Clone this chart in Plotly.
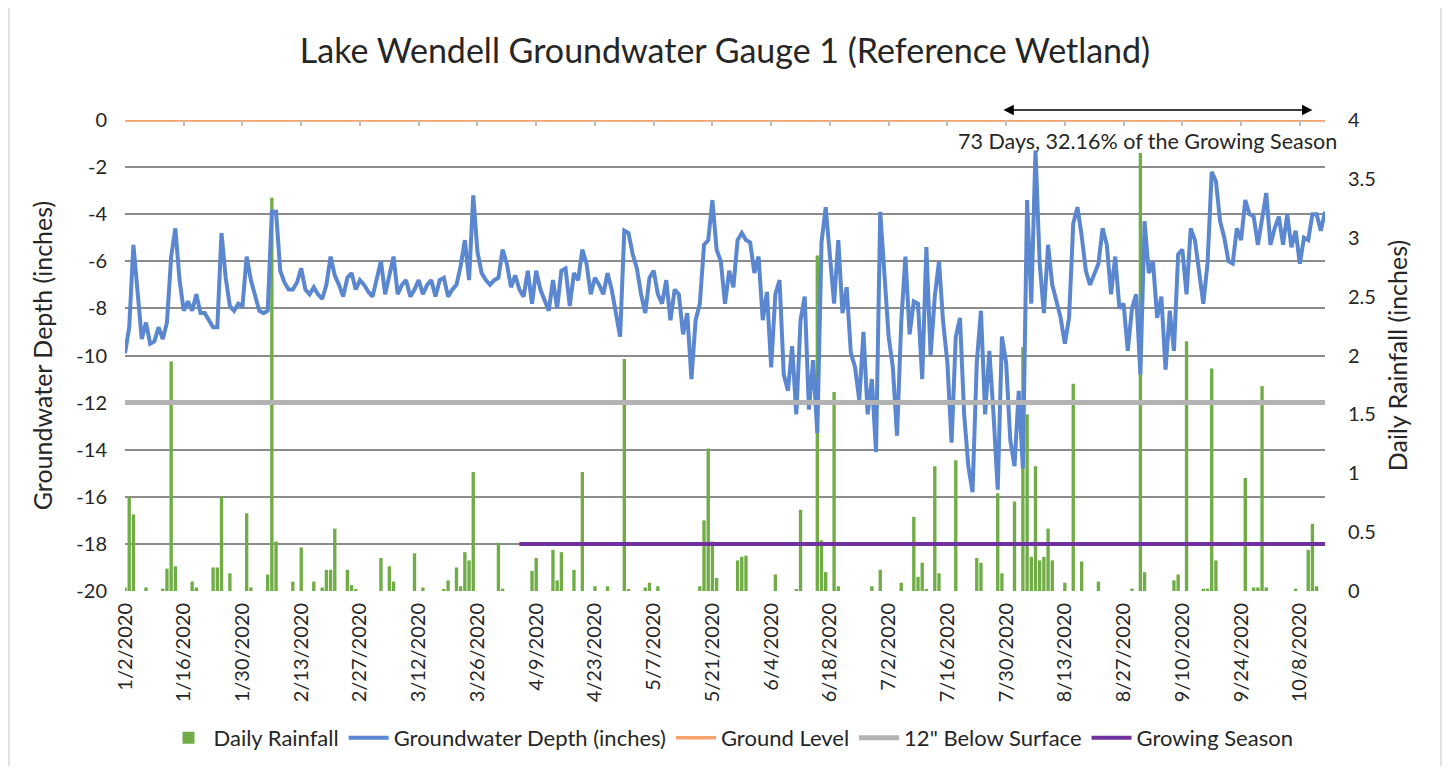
import pandas as pd
import plotly.graph_objects as go

# ---------------- data ----------------
start_date = "2020-01-02"
gw_depth = [
    -9.9, -8.8, -5.3, -7.2, -9.3, -8.6, -9.5, -9.4, -8.8, -9.3,
    -8.6, -5.8, -4.6, -6.8, -8.1, -7.7, -8.1, -7.4, -8.2, -8.2,
    -8.5, -8.8, -8.8, -4.8, -6.7, -7.9, -8.1, -7.8, -7.9, -5.8,
    -6.8, -7.5, -8.1, -8.2, -8.1, -3.9, -3.9, -6.4, -6.9, -7.2,
    -7.2, -6.9, -6.3, -7.2, -7.4, -7.1, -7.4, -7.6, -7.0, -5.8,
    -6.6, -7.0, -7.5, -6.7, -6.5, -7.2, -6.8, -7.0, -7.3, -7.5,
    -6.8, -6.0, -7.4, -6.6, -5.8, -7.4, -7.0, -6.8, -7.5, -7.2,
    -6.8, -7.4, -7.0, -6.8, -7.5, -6.8, -6.7, -7.5, -7.2, -7.0,
    -6.2, -5.1, -6.8, -3.2, -5.6, -6.5, -6.8, -7.0, -6.8, -6.7,
    -5.5, -6.1, -7.1, -6.6, -7.2, -7.5, -6.4, -7.8, -6.4, -7.2,
    -7.6, -8.1, -6.8, -8.0, -6.4, -6.3, -7.9, -6.5, -6.8, -5.5,
    -6.1, -7.4, -6.7, -7.0, -7.4, -6.5, -7.2, -8.2, -9.2, -4.7,
    -4.8, -5.7, -6.3, -7.4, -8.2, -6.7, -6.4, -7.4, -7.8, -6.8,
    -8.5, -7.2, -7.4, -9.1, -8.2, -11.0, -8.5, -7.8, -5.3, -5.1,
    -3.4, -5.5, -6.0, -7.8, -6.4, -7.1, -5.1, -4.8, -5.1, -5.2,
    -6.5, -5.8, -8.5, -7.3, -10.5, -7.4, -6.8, -10.8, -11.5, -9.6,
    -12.5, -8.5, -7.5, -12.3, -10.2, -13.3, -5.2, -3.7, -5.8, -7.8,
    -5.1, -8.2, -7.1, -9.9, -10.5, -11.9, -9.0, -12.5, -11.0, -14.1,
    -3.9, -6.8, -9.2, -10.5, -13.4, -8.6, -5.8, -9.1, -7.7, -7.8,
    -11.0, -5.4, -10.0, -7.5, -6.0, -8.6, -10.3, -13.7, -9.2, -8.4,
    -12.5, -14.7, -15.8, -10.3, -8.1, -12.5, -9.8, -12.5, -15.7, -9.2,
    -10.3, -13.6, -14.7, -11.5, -14.8, -3.4, -7.8, -1.3, -6.1, -8.2,
    -5.3, -7.0, -7.7, -8.4, -9.5, -8.4, -4.4, -3.7, -4.9, -6.4,
    -7.0, -6.5, -6.1, -4.6, -5.3, -7.4, -5.8, -8.0, -7.8, -9.8,
    -8.0, -7.4, -10.8, -4.3, -6.5, -6.0, -8.4, -7.5, -10.6, -8.1,
    -9.8, -5.7, -5.5, -7.4, -4.6, -5.1, -6.4, -7.8, -6.1, -2.2,
    -2.6, -4.3, -5.0, -6.0, -6.1, -4.6, -5.1, -3.4, -4.0, -4.1,
    -5.3, -4.1, -3.1, -5.3, -4.6, -4.1, -5.3, -4.0, -5.4, -4.7,
    -6.1, -5.0, -5.1, -4.0, -4.0, -4.7, -3.9,
]

rain_dates = [
    "2020-01-02", "2020-01-03", "2020-01-04", "2020-01-07", "2020-01-11", "2020-01-12",
    "2020-01-13", "2020-01-14", "2020-01-18", "2020-01-19", "2020-01-23", "2020-01-24",
    "2020-01-25", "2020-01-27", "2020-01-31", "2020-02-01", "2020-02-05", "2020-02-06",
    "2020-02-07", "2020-02-11", "2020-02-13", "2020-02-16", "2020-02-18", "2020-02-19",
    "2020-02-20", "2020-02-21", "2020-02-24", "2020-02-25", "2020-02-26", "2020-03-03",
    "2020-03-05", "2020-03-06", "2020-03-11", "2020-03-13", "2020-03-18", "2020-03-19",
    "2020-03-21", "2020-03-22", "2020-03-23", "2020-03-24", "2020-03-25", "2020-03-31",
    "2020-04-01", "2020-04-08", "2020-04-09", "2020-04-13", "2020-04-14", "2020-04-15",
    "2020-04-18", "2020-04-20", "2020-04-23", "2020-04-26", "2020-04-30", "2020-05-01",
    "2020-05-05", "2020-05-06", "2020-05-08", "2020-05-18", "2020-05-19", "2020-05-20",
    "2020-05-21", "2020-05-22", "2020-05-27", "2020-05-28", "2020-05-29", "2020-06-05",
    "2020-06-10", "2020-06-11", "2020-06-15", "2020-06-16", "2020-06-17", "2020-06-19",
    "2020-06-20", "2020-06-28", "2020-06-30", "2020-07-05", "2020-07-08", "2020-07-09",
    "2020-07-10", "2020-07-11", "2020-07-13", "2020-07-14", "2020-07-18", "2020-07-23",
    "2020-07-24", "2020-07-28", "2020-07-29", "2020-08-01", "2020-08-03", "2020-08-04",
    "2020-08-05", "2020-08-06", "2020-08-07", "2020-08-08", "2020-08-09", "2020-08-10",
    "2020-08-13", "2020-08-15", "2020-08-17", "2020-08-21", "2020-08-29", "2020-08-31",
    "2020-09-01", "2020-09-08", "2020-09-09", "2020-09-11", "2020-09-15", "2020-09-16",
    "2020-09-17", "2020-09-18", "2020-09-25", "2020-09-27", "2020-09-28", "2020-09-29",
    "2020-09-30", "2020-10-07", "2020-10-10", "2020-10-11", "2020-10-12",
]
rain_inches = [
    0.03, 0.80, 0.65, 0.03, 0.02, 0.19,
    1.95, 0.21, 0.08, 0.03, 0.20, 0.20,
    0.80, 0.15, 0.66, 0.03, 0.14, 3.34,
    0.42, 0.08, 0.37, 0.08, 0.03, 0.18,
    0.18, 0.53, 0.18, 0.05, 0.01, 0.28,
    0.21, 0.08, 0.32, 0.03, 0.01, 0.09,
    0.20, 0.04, 0.33, 0.26, 1.01, 0.41,
    0.02, 0.17, 0.28, 0.35, 0.09, 0.33,
    0.18, 1.01, 0.04, 0.04, 1.97, 0.01,
    0.03, 0.07, 0.04, 0.04, 0.60, 1.21,
    0.42, 0.11, 0.26, 0.29, 0.30, 0.14,
    0.01, 0.69, 2.85, 0.43, 0.16, 1.69,
    0.04, 0.04, 0.18, 0.07, 0.63, 0.12,
    0.24, 0.01, 1.06, 0.15, 1.11, 0.28,
    0.24, 0.83, 0.15, 0.76, 2.07, 1.50,
    0.29, 1.06, 0.26, 0.29, 0.53, 0.26,
    0.07, 1.76, 0.25, 0.08, 0.02, 3.72,
    0.16, 0.09, 0.14, 2.12, 0.02, 0.02,
    1.89, 0.26, 0.96, 0.03, 0.03, 1.74,
    0.03, 0.02, 0.35, 0.57, 0.04,
]

ground_level = [0, 0]
below_12 = [-12, -12]
growing_season_dates = ["2020-04-05", "2020-10-14"]
growing_season_level = [-18, -18]
season_window = ["2020-07-29", "2020-10-11"]
season_label = "73 Days, 32.16% of the Growing Season"

tick_labels = ["1/2/2020", "1/16/2020", "1/30/2020", "2/13/2020", "2/27/2020", "3/12/2020",
               "3/26/2020", "4/9/2020", "4/23/2020", "5/7/2020", "5/21/2020", "6/4/2020",
               "6/18/2020", "7/2/2020", "7/16/2020", "7/30/2020", "8/13/2020", "8/27/2020",
               "9/10/2020", "9/24/2020", "10/8/2020"]
depth_ticks = [0, -2, -4, -6, -8, -10, -12, -14, -16, -18, -20]
rain_ticks = [0, 0.5, 1, 1.5, 2, 2.5, 3, 3.5, 4]

# ---------------- derived ----------------
gw_dates = pd.date_range(start_date, periods=len(gw_depth), freq="D")
full_span = [gw_dates[0], gw_dates[-1]]
tick_vals = pd.to_datetime(tick_labels, format="%m/%d/%Y")

FONT = "Lato"
TXT = "#262626"
GRID = "#8c8c8c"

# The page body has an 8px margin, so the figure is drawn 8px in from the
# window edge.  Figure size and positions are given in figure pixels.
OFF = 8
FW, FH = 1450 - 2 * OFF, 774 - 2 * OFF
# plot area on screen: x 125..1325, y 120..591
L, T = 125 - OFF, 120 - OFF
R = FW - (1325 - OFF)
B = FH - (591 - OFF)
PW, PH = FW - L - R, FH - T - B


def px(xs):
    """screen x pixel -> paper x"""
    return (xs - OFF - L) / PW


def py(ys):
    """screen y pixel -> paper y"""
    return (FH - B - (ys - OFF)) / PH


fig = go.Figure()
fig.add_trace(go.Bar(x=pd.to_datetime(rain_dates), y=rain_inches, name="Daily Rainfall",
                     marker=dict(color="#70AD47", line=dict(width=0)),
                     xaxis="x", yaxis="y"))
fig.add_trace(go.Scatter(x=gw_dates, y=gw_depth, mode="lines", name="Groundwater Depth (inches)",
                         line=dict(color="#5A87D0", width=4),
                         xaxis="x", yaxis="y2"))
fig.add_trace(go.Scatter(x=full_span, y=ground_level, mode="lines", name="Ground Level",
                         line=dict(color="#F4A26B", width=3.5),
                         xaxis="x2", yaxis="y2"))
fig.add_trace(go.Scatter(x=full_span, y=below_12, mode="lines", name="12\" Below Surface",
                         line=dict(color="#B3B3B3", width=5),
                         xaxis="x", yaxis="y2"))
fig.add_trace(go.Scatter(x=pd.to_datetime(growing_season_dates), y=growing_season_level,
                         mode="lines", name="Growing Season",
                         line=dict(color="#7030A0", width=4),
                         xaxis="x", yaxis="y2"))

xrange = [gw_dates[0], gw_dates[-1]]

fig.update_layout(
    width=FW, height=FH,
    paper_bgcolor="white", plot_bgcolor="white",
    margin=dict(l=L, r=R, t=T, b=B, autoexpand=False),
    font=dict(family=FONT, color=TXT, size=18),
    title=dict(text="Lake Wendell Groundwater Gauge 1 (Reference Wetland)",
               x=0.5, xanchor="center", y=1 - (51 - OFF) / FH, yanchor="middle",
               font=dict(family=FONT, size=34, color=TXT)),
    bargap=0.2,
    showlegend=True,
    legend=dict(orientation="h", x=px(731), xanchor="center", y=py(738), yanchor="middle",
                font=dict(family=FONT, size=22, color=TXT), itemwidth=40,
                traceorder="normal"),
    xaxis=dict(type="date", range=xrange, tickvals=tick_vals, ticktext=tick_labels,
               tickangle=-90, showgrid=False, zeroline=False, showline=False,
               ticks="", ticklabelstandoff=7, automargin=False,
               tickfont=dict(family=FONT, size=20, color=TXT)),
    xaxis2=dict(type="date", range=xrange, overlaying="x", side="top",
                tickvals=tick_vals, showticklabels=False, ticks="inside",
                ticklen=6, tickcolor="#bfbfbf", tickwidth=1.5, automargin=False,
                showgrid=False, zeroline=False, showline=False),
    yaxis=dict(range=[0, 4], side="right", tickvals=rain_ticks,
               ticktext=[f"{v:g}" for v in rain_ticks],
               showgrid=False, zeroline=False, showline=False, ticks="",
               ticklabelstandoff=22, automargin=False,
               tickfont=dict(family=FONT, size=20, color=TXT),
               title=dict(text="Daily Rainfall (inches)", standoff=14,
                          font=dict(family=FONT, size=25, color=TXT))),
    yaxis2=dict(range=[-20, 0], overlaying="y", side="left", tickvals=depth_ticks,
                ticktext=[f"{v}" for v in depth_ticks],
                showgrid=True, gridcolor=GRID, gridwidth=2, zeroline=False, showline=False,
                ticks="", ticklabelstandoff=17, automargin=False,
                tickfont=dict(family=FONT, size=20, color=TXT),
                title=dict(text="Groundwater Depth (inches)", standoff=16,
                           font=dict(family=FONT, size=25, color=TXT))),
    annotations=[
        dict(x=pd.Timestamp(season_window[1]), y=py(110), xref="x", yref="paper",
             ax=pd.Timestamp(season_window[0]), ay=0, axref="x", ayref="pixel",
             showarrow=True, arrowhead=2, arrowside="end+start", arrowsize=1.6,
             arrowwidth=1.3, arrowcolor="black", text=""),
        dict(x=px(1147), y=py(141), xref="paper", yref="paper",
             xanchor="center", yanchor="middle",
             text=season_label, showarrow=False,
             font=dict(family=FONT, size=21.5, color=TXT)),
    ],
    shapes=[
        dict(type="line", xref="paper", yref="paper", x0=px(9), x1=px(9),
             y0=-0.5, y1=1.4, line=dict(color="#d9d9d9", width=1.5)),
        dict(type="line", xref="paper", yref="paper", x0=px(1441), x1=px(1441),
             y0=-0.5, y1=1.4, line=dict(color="#d9d9d9", width=1.5)),
    ],
)

fig.write_html("out.html")
